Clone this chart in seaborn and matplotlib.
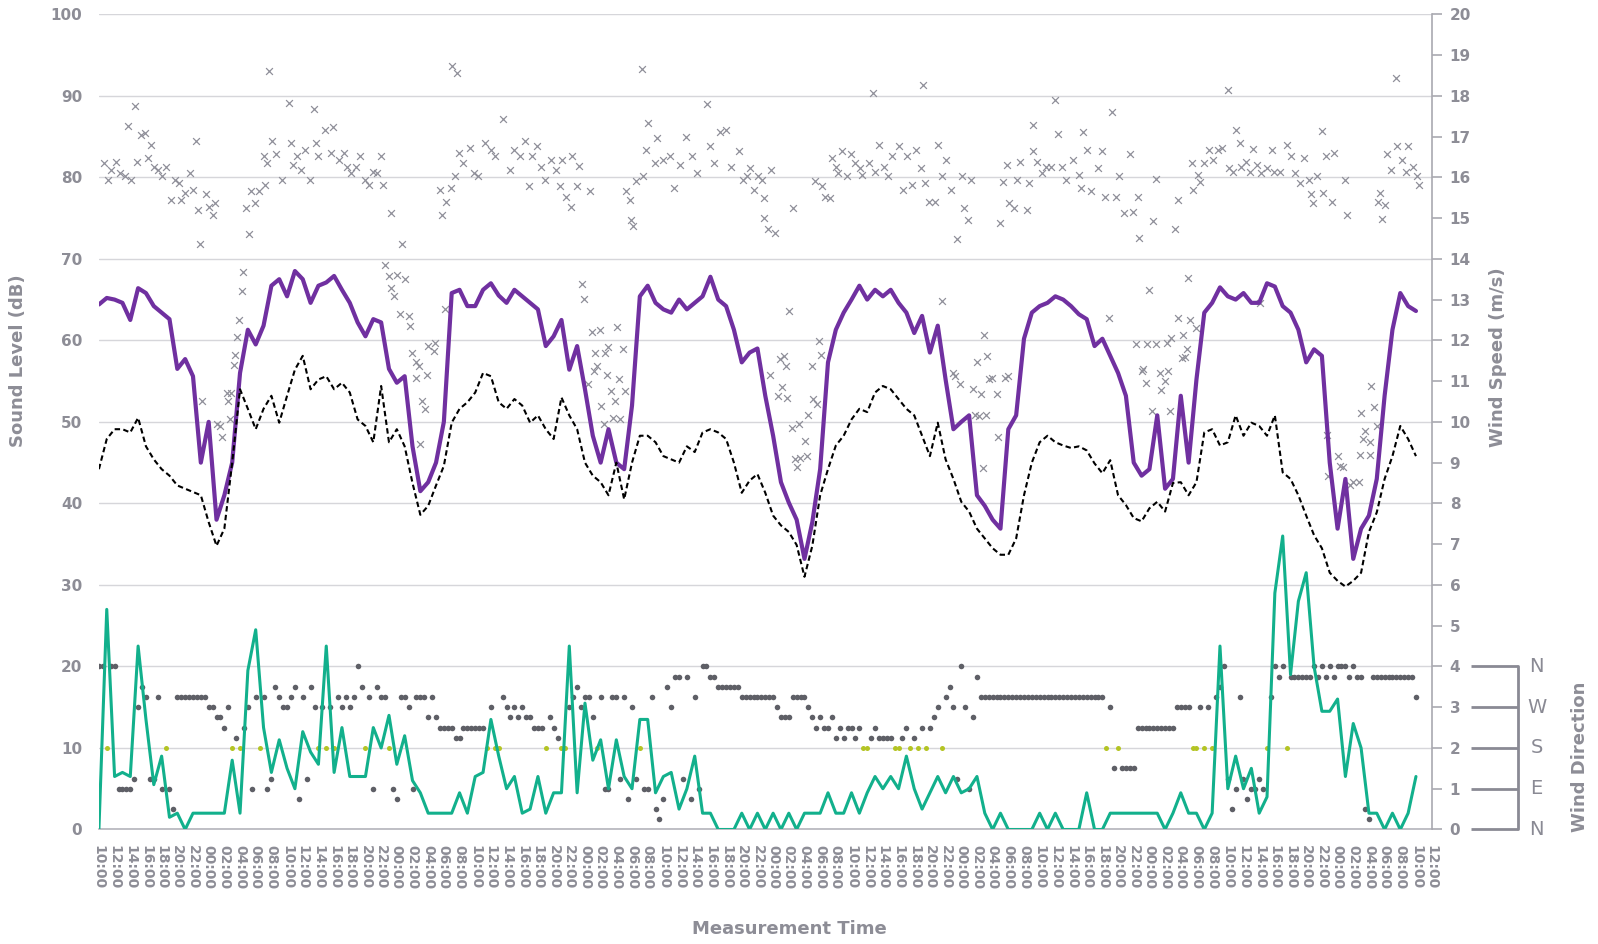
import numpy as np
import pandas as pd
import matplotlib
matplotlib.use("Agg")
import matplotlib.pyplot as plt
import matplotlib.transforms as mtransforms
import seaborn as sns

# hours since 10:00 on the first day (hourly values)
hours = np.arange(169)

# LAeq, purple line (dB)
laeq = [64.4, 65.2, 65.0, 64.6, 62.5, 66.4, 65.8, 64.2, 63.4, 62.6,
        56.5, 57.7, 55.6, 45.0, 50.0, 38.0, 41.0, 45.0, 56.0, 61.3,
        59.5, 61.8, 66.7, 67.5, 65.4, 68.5, 67.5, 64.6, 66.7, 67.1,
        67.9, 66.2, 64.6, 62.2, 60.5, 62.6, 62.2, 56.5, 54.8, 55.6,
        47.0, 41.5, 42.6, 45.0, 50.0, 65.8, 66.2, 64.2, 64.2, 66.2,
        67.0, 65.5, 64.6, 66.2, 65.4, 64.6, 63.8, 59.3, 60.5, 62.5,
        56.4, 59.3, 54.0, 48.3, 45.0, 49.1, 45.0, 44.2, 52.0, 65.4,
        66.7, 64.6, 63.8, 63.4, 65.0, 63.8, 64.6, 65.4, 67.8, 65.0,
        64.2, 61.3, 57.3, 58.5, 59.0, 53.2, 48.3, 42.6, 40.1, 38.0,
        33.2, 37.7, 44.2, 57.3, 61.3, 63.4, 65.0, 66.7, 65.0, 66.2,
        65.4, 66.2, 64.6, 63.4, 60.9, 63.0, 58.5, 61.8, 55.2, 49.1,
        50.0, 50.8, 41.0, 39.7, 38.0, 36.9, 49.1, 50.8, 60.2, 63.4,
        64.2, 64.6, 65.4, 65.0, 64.2, 63.2, 62.6, 59.3, 60.2, 58.1,
        56.0, 53.2, 45.0, 43.4, 44.2, 50.8, 41.8, 43.0, 53.2, 45.0,
        55.2, 63.4, 64.6, 66.5, 65.4, 65.0, 65.8, 64.6, 64.6, 67.0,
        66.6, 64.2, 63.4, 61.3, 57.3, 58.9, 58.1, 45.0, 36.9, 43.0,
        33.2, 36.9, 38.5, 43.0, 53.2, 61.3, 65.8, 64.2, 63.6]

# LA90, black dashed line (dB)
la90 = [44.2, 47.9, 49.1, 49.1, 48.7, 50.5, 47.0, 45.4, 44.2, 43.4,
        42.2, 41.8, 41.4, 41.0, 37.7, 34.8, 36.9, 45.0, 54.0, 51.6,
        49.1, 51.6, 53.2, 49.9, 53.2, 56.4, 58.1, 54.0, 55.2, 55.6,
        54.0, 54.8, 53.6, 50.3, 49.5, 47.5, 54.4, 47.5, 49.1, 47.0,
        42.5, 38.6, 39.7, 42.2, 44.6, 49.9, 51.6, 52.4, 53.6, 56.0,
        55.6, 52.4, 51.6, 52.8, 52.0, 49.9, 50.8, 49.1, 47.9, 53.0,
        50.8, 49.1, 45.0, 43.4, 42.6, 41.0, 45.0, 40.5, 45.0, 48.3,
        48.3, 47.5, 45.8, 45.4, 45.0, 47.0, 46.3, 48.7, 49.1, 48.7,
        47.9, 45.0, 41.3, 42.8, 43.6, 41.3, 38.5, 37.3, 36.5, 34.9,
        31.0, 34.8, 41.0, 44.2, 47.1, 48.3, 50.3, 51.6, 51.2, 53.6,
        54.4, 54.0, 52.8, 51.6, 50.8, 48.3, 45.8, 49.9, 45.4, 43.0,
        40.2, 39.0, 36.9, 35.7, 34.5, 33.7, 33.7, 35.7, 41.0, 45.0,
        47.5, 48.3, 47.5, 47.1, 46.8, 47.0, 46.5, 44.9, 43.7, 45.3,
        41.0, 39.8, 38.2, 37.8, 39.4, 40.2, 39.0, 42.5, 42.6, 41.0,
        42.6, 48.7, 49.1, 47.1, 47.5, 50.8, 48.3, 49.9, 49.5, 48.3,
        50.8, 43.8, 43.0, 41.0, 38.5, 36.1, 34.5, 31.5, 30.5, 29.8,
        30.5, 31.5, 36.5, 38.9, 43.0, 45.8, 49.5, 47.9, 45.8]

# wind speed, green line (m/s)
wind_speed = [0.0, 5.4, 1.3, 1.4, 1.3, 4.5, 2.7, 1.1, 1.8, 0.3,
              0.4, 0.0, 0.4, 0.4, 0.4, 0.4, 0.4, 1.7, 0.4, 3.9,
              4.9, 2.5, 1.4, 2.2, 1.5, 1.0, 2.4, 1.9, 1.6, 4.5,
              1.4, 2.5, 1.3, 1.3, 1.3, 2.5, 2.0, 2.8, 1.6, 2.3,
              1.2, 0.9, 0.4, 0.4, 0.4, 0.4, 0.9, 0.4, 1.3, 1.4,
              2.7, 1.8, 1.0, 1.3, 0.4, 0.5, 1.3, 0.4, 0.9, 0.9,
              4.5, 0.9, 3.1, 1.7, 2.2, 1.0, 2.2, 1.3, 1.0, 2.7,
              2.7, 0.9, 1.3, 1.4, 0.5, 1.0, 1.8, 0.4, 0.4, 0.0,
              0.0, 0.0, 0.4, 0.0, 0.4, 0.0, 0.4, 0.0, 0.4, 0.0,
              0.4, 0.4, 0.4, 0.9, 0.4, 0.4, 0.9, 0.4, 0.9, 1.3,
              1.0, 1.3, 1.0, 1.8, 1.0, 0.5, 0.9, 1.3, 0.9, 1.3,
              0.9, 1.0, 1.3, 0.4, 0.0, 0.4, 0.0, 0.0, 0.0, 0.0,
              0.4, 0.0, 0.4, 0.0, 0.0, 0.0, 0.9, 0.0, 0.0, 0.4,
              0.4, 0.4, 0.4, 0.4, 0.4, 0.4, 0.0, 0.4, 0.9, 0.4,
              0.4, 0.0, 0.4, 4.5, 1.0, 1.8, 1.0, 1.5, 0.4, 0.8,
              5.8, 7.2, 3.8, 5.6, 6.3, 4.0, 2.9, 2.9, 3.2, 1.3,
              2.6, 2.0, 0.4, 0.4, 0.0, 0.4, 0.0, 0.4, 1.3]

# wind direction, every half hour from 10:00 on the first day
wind_dir = [
    "N", "N", "S", "N", "N", "E", "E", "E", "E", "ESE", "W", "NW",
    "WNW", "ESE", "ESE", "WNW", "E", "S", "E", "NE", "WNW", "WNW", "WNW", "WNW",
    "WNW", "WNW", "WNW", "WNW", "W", "W", "WSW", "WSW", "SW", "W", "S", "SSW",
    "S", "SW", "W", "E", "WNW", "S", "WNW", "E", "ESE", "NW", "WNW", "W",
    "W", "WNW", "NW", "ENE", "WNW", "ESE", "NW", "W", "S", "W", "S", "W",
    "S", "WNW", "W", "WNW", "W", "WNW", "N", "NW", "S", "WNW", "E", "NW",
    "WNW", "WNW", "S", "E", "ENE", "WNW", "WNW", "W", "E", "WNW", "WNW", "WNW",
    "WSW", "WNW", "WSW", "SW", "SW", "SW", "SW", "SSW", "SSW", "SW", "SW", "SW",
    "SW", "SW", "SW", "S", "W", "S", "S", "WNW", "W", "WSW", "W", "WSW",
    "W", "WSW", "WSW", "SW", "SW", "SW", "S", "WSW", "SW", "SSW", "S", "S",
    "W", "WNW", "NW", "W", "WNW", "WNW", "WSW", "S", "WNW", "E", "E", "WNW",
    "WNW", "ESE", "WNW", "ENE", "W", "ESE", "S", "E", "E", "WNW", "NE", "NNE",
    "ENE", "NW", "W", "NNW", "NNW", "ESE", "NNW", "ENE", "WNW", "E", "N", "N",
    "NNW", "NNW", "NW", "NW", "NW", "NW", "NW", "NW", "WNW", "WNW", "WNW", "WNW",
    "WNW", "WNW", "WNW", "WNW", "WNW", "W", "WSW", "WSW", "WSW", "WNW", "WNW", "WNW",
    "WNW", "W", "WSW", "SW", "WSW", "SW", "SW", "WSW", "SSW", "SW", "SSW", "SW",
    "SW", "SSW", "SW", "S", "S", "SSW", "SW", "SSW", "SSW", "SSW", "SSW", "S",
    "S", "SSW", "SW", "S", "SSW", "S", "SW", "S", "SW", "WSW", "W", "S",
    "WNW", "NW", "W", "ESE", "N", "W", "E", "WSW", "NNW", "WNW", "WNW", "WNW",
    "WNW", "WNW", "WNW", "WNW", "WNW", "WNW", "WNW", "WNW", "WNW", "WNW", "WNW", "WNW",
    "WNW", "WNW", "WNW", "WNW", "WNW", "WNW", "WNW", "WNW", "WNW", "WNW", "WNW", "WNW",
    "WNW", "WNW", "WNW", "WNW", "WNW", "S", "W", "SE", "S", "SE", "SE", "SE",
    "SE", "SW", "SW", "SW", "SW", "SW", "SW", "SW", "SW", "SW", "SW", "W",
    "W", "W", "W", "S", "S", "W", "S", "W", "S", "WNW", "NW", "N",
    "ESE", "NE", "E", "WNW", "ESE", "ENE", "E", "E", "ESE", "E", "S", "WNW",
    "N", "NNW", "N", "S", "NNW", "NNW", "NNW", "NNW", "NNW", "NNW", "N", "NNW",
    "N", "NNW", "N", "NNW", "N", "N", "N", "NNW", "N", "NNW", "NNW", "NE",
    "NNE", "NNW", "NNW", "NNW", "NNW", "NNW", "NNW", "NNW", "NNW", "NNW", "NNW", "NNW",
    "WNW"]

compass_deg = {"NNE": 22.5, "NE": 45, "ENE": 67.5, "E": 90, "ESE": 112.5,
               "SE": 135, "SSE": 157.5, "S": 180, "SSW": 202.5, "SW": 225,
               "WSW": 247.5, "W": 270, "WNW": 292.5, "NW": 315, "NNW": 337.5,
               "N": 360}

# LAmax, grey crosses (hours since start, dB)
lmax_h = [0.6, 1.1, 1.6, 2.2, 2.7, 3.3, 3.7, 4.1, 4.6, 4.9, 5.4, 5.9, 6.2, 6.7,
          7.0, 7.6, 8.1, 8.6, 9.2, 9.7, 10.2, 10.5, 11.0, 11.6, 12.0, 12.4, 12.7,
          12.9, 13.1, 13.7, 14.0, 14.5, 14.8, 15.0, 15.4, 15.7, 16.3, 16.5, 16.7,
          16.9, 17.2, 17.4, 17.6, 17.9, 18.2, 18.4, 18.8, 19.1, 19.4, 19.9, 20.4,
          21.0, 21.2, 21.5, 21.7, 22.1, 22.6, 23.4, 24.2, 24.5, 24.7, 25.3, 25.8,
          26.3, 26.9, 27.4, 27.7, 28.0, 28.8, 29.6, 29.9, 30.6, 31.2, 31.7, 32.2,
          32.8, 33.3, 33.9, 34.4, 34.9, 35.5, 36.0, 36.2, 36.5, 37.0, 37.2, 37.3,
          37.6, 38.0, 38.4, 38.6, 39.1, 39.5, 39.7, 39.9, 40.4, 40.4, 40.8, 41.0,
          41.2, 41.6, 41.8, 42.0, 42.7, 42.9, 43.5, 43.8, 44.1, 44.3, 44.9, 45.1,
          45.4, 45.7, 45.9, 46.5, 47.3, 47.8, 48.3, 49.2, 50.0, 50.5, 51.6, 52.4,
          52.9, 53.7, 54.3, 54.8, 55.3, 55.9, 56.4, 56.9, 57.7, 58.3, 58.8, 59.1,
          59.6, 60.2, 60.4, 61.0, 61.2, 61.6, 61.9, 62.4, 62.6, 62.9, 63.2, 63.3,
          63.5, 63.9, 64.1, 64.4, 64.5, 64.8, 65.0, 65.3, 65.6, 65.8, 66.1, 66.4,
          66.5, 66.8, 67.1, 67.2, 67.7, 67.9, 68.1, 68.5, 69.3, 69.4, 69.8, 70.1,
          70.9, 71.2, 72.0, 72.8, 73.3, 74.1, 74.9, 75.7, 76.3, 77.6, 77.9, 78.4,
          79.2, 80.0, 80.6, 81.6, 82.2, 82.7, 83.1, 83.5, 84.1, 84.6, 84.8, 84.9,
          85.4, 85.6, 85.7, 86.2, 86.6, 86.9, 87.1, 87.4, 87.6, 87.8, 88.0, 88.4,
          88.5, 88.8, 89.0, 89.3, 89.4, 90.1, 90.3, 90.5, 91.0, 91.1, 91.3, 91.6,
          91.9, 92.1, 92.2, 92.6, 93.2, 93.5, 94.0, 94.3, 94.8, 95.4, 95.9, 96.5,
          97.1, 97.3, 98.2, 98.7, 99.0, 99.5, 100.1, 100.7, 101.2, 102.0, 102.6,
          103.1, 103.7, 104.2, 104.8, 105.1, 105.4, 105.9, 106.7, 107.0, 107.5,
          107.6, 108.1, 108.7, 109.0, 109.2, 109.5, 109.8, 110.1, 110.3, 110.9,
          111.2, 111.5, 111.7, 112.0, 112.2, 112.5, 112.8, 112.9, 113.2, 113.3,
          113.6, 113.9, 114.5, 114.7, 115.0, 115.3, 115.6, 115.8, 116.0, 116.1,
          116.7, 117.1, 117.5, 118.4, 118.7, 119.1, 119.2, 119.7, 120.3, 120.8,
          121.4, 122.0, 122.3, 122.8, 123.3, 124.2, 125.0, 125.3, 125.5, 126.1,
          126.6, 127.5, 128.0, 128.3, 128.9, 129.2, 129.7, 130.1, 130.8, 131.5,
          131.9, 132.3, 132.5, 132.7, 133.0, 133.2, 133.6, 133.7, 133.9, 134.3,
          134.4, 134.8, 134.9, 135.3, 135.5, 136.0, 136.2, 136.4, 136.6, 136.8,
          137.3, 137.6, 137.7, 138.1, 138.3, 138.5, 138.8, 138.9, 139.2, 139.4,
          139.6, 140.0, 140.2, 140.5, 140.9, 141.6, 142.1, 142.7, 143.2, 144.0,
          144.1, 144.6, 145.0, 145.5, 145.7, 146.3, 146.8, 147.2, 147.7, 148.1,
          148.2, 149.0, 149.6, 149.9, 150.7, 151.6, 152.1, 152.6, 153.2, 153.7,
          154.3, 154.6, 154.9, 155.4, 156.0, 156.2, 156.5, 156.6, 156.8, 157.3,
          157.6, 158.1, 158.3, 158.7, 159.0, 159.2, 159.6, 160.0, 160.7, 160.8,
          161.0, 161.3, 161.5, 162.1, 162.2, 162.3, 162.6, 163.0, 163.2, 163.4,
          163.7, 164.0, 164.3, 164.8, 165.4, 165.6, 166.2, 166.7, 167.0, 167.6,
          168.1, 168.4]
lmax_db = [81.8, 79.7, 80.9, 81.9, 80.5, 80.1, 86.3, 79.7, 88.8, 81.9, 85.2, 85.4, 82.4, 84.0,
           81.3, 80.9, 80.1, 81.3, 77.2, 79.7, 79.3, 77.2, 78.1, 80.5, 78.5, 84.5, 76.0,
           71.8, 52.6, 77.9, 76.4, 75.4, 76.8, 49.7, 49.5, 48.1, 53.6, 52.5, 50.4,
           53.6, 57.0, 58.2, 60.4, 62.5, 66.0, 68.4, 76.2, 73.1, 78.3, 76.8, 78.3,
           82.6, 79.0, 81.7, 93.0, 84.4, 82.8, 79.7, 89.1, 84.2, 81.5, 82.6, 80.9,
           83.4, 79.7, 88.4, 84.2, 82.6, 85.8, 83.0, 86.2, 82.1, 83.0, 81.3, 80.5,
           81.3, 82.6, 79.7, 79.1, 80.7, 80.5, 82.6, 79.0, 69.3, 67.9, 66.4, 75.6,
           65.4, 68.0, 63.2, 71.8, 67.5, 63.0, 61.8, 58.5, 57.3, 55.4, 56.9, 47.3,
           52.6, 51.6, 55.8, 59.3, 58.7, 59.7, 78.5, 75.4, 63.8, 77.0, 78.7, 93.7,
           80.1, 92.8, 83.0, 81.7, 83.6, 80.5, 80.1, 84.2, 83.4, 82.6, 87.2, 80.9,
           83.4, 82.6, 84.4, 78.9, 82.6, 83.8, 81.3, 79.7, 82.1, 80.9, 78.9, 82.1,
           77.6, 76.4, 82.6, 78.9, 81.4, 66.9, 65.1, 54.7, 78.3, 61.0, 56.2, 58.5,
           56.9, 61.3, 52.0, 49.7, 58.4, 55.8, 59.2, 53.8, 50.5, 52.6, 61.6, 55.2,
           50.3, 59.0, 53.8, 78.3, 77.2, 74.8, 74.0, 79.5, 93.3, 80.1, 83.4, 86.6,
           81.7, 84.8, 82.1, 82.6, 78.7, 81.5, 85.0, 82.6, 80.5, 89.0, 83.8, 81.7,
           85.6, 85.8, 81.3, 83.2, 79.7, 80.1, 81.1, 78.5, 80.1, 79.7, 75.0, 77.4,
           73.6, 55.8, 80.9, 73.2, 53.2, 57.7, 54.3, 58.1, 56.9, 52.9, 63.6, 49.3,
           76.2, 45.4, 44.5, 49.7, 45.6, 47.7, 45.8, 50.9, 56.8, 52.8, 79.6, 52.2,
           59.9, 58.2, 78.9, 77.6, 77.4, 82.4, 81.3, 80.5, 83.2, 80.1, 82.8, 81.7,
           81.1, 80.3, 81.7, 90.3, 80.7, 84.0, 81.3, 80.1, 82.6, 83.9, 78.5,
           82.6, 79.1, 83.4, 81.1, 91.3, 79.3, 77.0, 77.0, 84.0, 64.8,
           80.1, 82.1, 78.5, 56.0, 55.6, 72.4, 54.7, 80.1, 76.2, 74.8,
           79.7, 54.0, 50.9, 57.3, 50.7, 53.4, 44.3, 60.7, 50.9, 58.1,
           55.2, 55.4, 53.4, 48.2, 74.4, 79.4, 55.4, 81.5, 55.6, 76.8,
           76.2, 79.7, 81.9, 76.0, 79.3, 83.2, 86.4, 81.9, 80.5, 81.3,
           81.3, 89.5, 85.3, 81.3, 79.7, 82.1, 80.3, 78.7, 85.6, 83.4,
           78.3, 81.1, 83.2, 77.6, 62.7, 88.0, 77.6, 80.1, 75.6, 82.8,
           75.8, 59.6, 77.6, 72.6, 56.2, 56.5, 54.8, 59.6, 66.2, 51.3,
           74.6, 59.6, 79.8, 56.0, 53.9, 55.0, 59.7, 56.2, 51.3, 60.3,
           73.6, 62.8, 77.2, 57.8, 60.7, 57.9, 59.0, 67.7, 62.5, 81.7,
           78.5, 61.5, 80.3, 79.4, 81.7, 83.4, 82.1, 83.4, 83.6, 90.7,
           81.1, 80.7, 85.8, 84.2, 81.3, 81.9, 80.7, 83.5, 81.5, 64.6,
           80.5, 81.1, 83.4, 80.7, 80.7, 84.0, 82.6, 80.5, 79.3, 82.4,
           79.7, 77.9, 76.8, 80.1, 85.7, 78.1, 82.6, 48.4, 43.4, 77.0,
           83.0, 45.8, 44.6, 44.5, 79.7, 75.4, 42.2, 42.6, 42.6, 45.9,
           51.1, 47.9, 48.9, 45.9, 47.5, 54.4, 51.8, 49.5, 77.0, 78.1,
           74.9, 76.6, 82.8, 80.9, 92.2, 83.8, 82.1, 80.7, 83.9, 81.3,
           80.1, 79.1]

tick_hours = list(range(0, 171, 2))
tick_labels = [f"{(10 + h) % 24:02d}:00" for h in tick_hours]
compass_ticks = [0, 1, 2, 3, 4]
compass_labels = ["N", "E", "S", "W", "N"]

# colours
TXT = "#8d8d96"
GRID = "#d6d6da"
PURPLE = "#7030a0"
GREEN = "#12b08c"
CROSS = "#8f8f99"
DOT = "#5e5f66"
YEL = "#b4c424"

sns.set_theme(style="white")
plt.rcParams["font.family"] = ["DejaVu Sans"]

df = pd.DataFrame({"h": hours, "laeq": laeq, "la90": la90, "ws": wind_speed})
lmax = pd.DataFrame({"h": lmax_h, "db": lmax_db})
wd = pd.DataFrame({"h": np.arange(len(wind_dir)) * 0.5, "code": wind_dir})
wd["val"] = wd["code"].map(compass_deg) / 90.0
wd_s = wd[wd["code"] == "S"]
wd_o = wd[wd["code"] != "S"]

fig = plt.figure(figsize=(15.98, 9.44), dpi=100)
ax = fig.add_axes([0.0619, 0.1213, 0.834, 0.8636])
ax2 = ax.twinx()

# sound levels on the left axis
sns.scatterplot(data=lmax, x="h", y="db", ax=ax, marker="x", s=24, color=CROSS,
                linewidth=0.9, zorder=2, legend=False)
sns.lineplot(data=df, x="h", y="laeq", ax=ax, color=PURPLE, lw=3.0, zorder=3)
sns.lineplot(data=df, x="h", y="la90", ax=ax, color="black", lw=1.5,
             linestyle=(0, (2.6, 1.6)), zorder=4)

# wind on the right axis
sns.scatterplot(data=wd_o, x="h", y="val", ax=ax2, s=16, color=DOT,
                linewidth=0, zorder=2, legend=False)
sns.scatterplot(data=wd_s, x="h", y="val", ax=ax2, s=13, color=YEL,
                linewidth=0, zorder=2, legend=False)
sns.lineplot(data=df, x="h", y="ws", ax=ax2, color=GREEN, lw=2.2, zorder=3)

ax.set_xlim(0, 170)
ax.set_ylim(0, 100)
ax2.set_ylim(0, 20)
ax.set_yticks(range(0, 101, 10))
ax2.set_yticks(range(0, 21))
ax.set_xticks(tick_hours)
ax.set_xticklabels(tick_labels, rotation=-90, fontsize=10, fontweight="bold", color=TXT)
ax.grid(axis="y", color=GRID, lw=1.0)
ax.grid(axis="x", visible=False)
ax.set_axisbelow(True)

for lab in ax.get_yticklabels():
    lab.set_fontweight("bold")
for lab in ax2.get_yticklabels():
    lab.set_fontweight("bold")
ax.tick_params(axis="y", length=0, pad=12, labelsize=11, labelcolor=TXT)
ax.tick_params(axis="x", length=0, pad=11)
ax2.tick_params(axis="y", length=7, width=1.2, color="#a9a9b0", pad=6,
                labelsize=11, labelcolor=TXT, direction="out")

for side in ["left", "top", "right"]:
    ax.spines[side].set_visible(False)
ax.spines["bottom"].set_color("#b4b4bb")
ax.spines["bottom"].set_linewidth(1.2)
for side in ["left", "top", "bottom"]:
    ax2.spines[side].set_visible(False)
ax2.spines["right"].set_color("#a9a9b0")
ax2.spines["right"].set_linewidth(1.2)

ax.set_xlabel("")
ax.set_ylabel("Sound Level (dB)", fontsize=13, fontweight="bold", color=TXT)
ax.yaxis.set_label_coords(-0.054, 0.575)
ax2.set_ylabel("Wind Speed (m/s)", fontsize=13, fontweight="bold", color=TXT)
ax2.yaxis.set_label_coords(1.043, 0.579)
fig.text(0.4937, 0.0159, "Measurement Time", fontsize=13, fontweight="bold",
         color=TXT, ha="center", va="center")

# wind direction bracket on the right
tr = mtransforms.blended_transform_factory(ax2.transAxes, ax2.transData)
for v, name in zip(compass_ticks, compass_labels):
    ax2.plot([1.0298, 1.0646], [v, v], transform=tr, color="#8a8a94", lw=2,
             clip_on=False, solid_capstyle="butt")
    ax2.text(1.0788, v, name, transform=tr, ha="center", va="center",
             fontsize=14, color="#8a8a94")
ax2.plot([1.0646, 1.0646], [compass_ticks[0], compass_ticks[-1]], transform=tr,
         color="#8a8a94", lw=2, clip_on=False)
ax2.text(1.111, 1.78, "Wind Direction", transform=tr, rotation=90, ha="center",
         va="center", fontsize=13, fontweight="bold", color=TXT)

fig.savefig("out.png", dpi=100)
